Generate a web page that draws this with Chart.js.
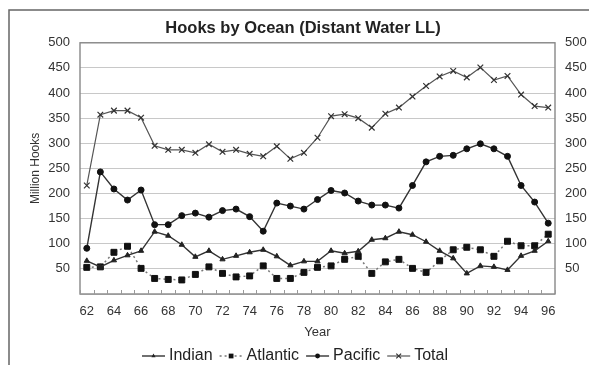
<!DOCTYPE html>
<html><head><meta charset="utf-8">
<script src="https://cdn.jsdelivr.net/npm/chart.js@4/dist/chart.umd.min.js"></script>
<style>html,body{margin:0;padding:0;background:#fff}</style>
</head><body>
<canvas id="c" width="589" height="365" style="display:block;width:589px;height:365px"></canvas>
<script>
const years = ['62','63','64','65','66','67','68','69','70','71','72','73','74','75','76','77','78','79','80','81','82','83','84','85','86','87','88','89','90','91','92','93','94','95','96'];
const indian   = [66,54,67,77,86,124,116,98,74,86,69,76,83,88,75,57,65,65,86,81,85,108,111,124,118,104,86,71,41,56,54,48,76,86,105];
const atlantic = [53,54,83,95,51,31,29,28,39,54,41,34,36,56,31,31,43,53,56,69,75,41,64,69,51,43,66,88,93,88,75,105,96,96,119];
const pacific  = [91,243,209,187,207,138,138,156,161,153,166,169,154,125,181,175,169,188,206,201,185,177,177,171,216,263,274,276,289,299,289,274,216,183,141];
const total    = [216,357,365,365,351,295,287,287,281,298,283,287,279,274,294,269,281,311,354,358,350,331,359,371,393,414,433,444,431,451,426,434,397,374,371];
const yMin = 0, yMax = 500, yStep = 50;
const titleText = 'Hooks by Ocean (Distant Water LL)';
const yTitle = 'Million Hooks';
const xTitle = 'Year';

const FONT = '"Liberation Sans", Arial, sans-serif';

const datasets = [
  {label:'Indian', data: indian, borderColor:'#333', borderWidth:1.4, pointStyle:'triangle', pointRadius:3,
   pointBackgroundColor:'#222', pointBorderColor:'#222', pointBorderWidth:1},
  {label:'Atlantic', data: atlantic, borderColor:'#777', borderWidth:1.5, borderDash:[2,3], pointStyle:'rect', pointRadius:4.2,
   pointBackgroundColor:'#111', pointBorderColor:'#111', pointBorderWidth:1},
  {label:'Pacific', data: pacific, borderColor:'#333', borderWidth:1.4, pointStyle:'circle', pointRadius:3,
   pointBackgroundColor:'#111', pointBorderColor:'#111', pointBorderWidth:1},
  {label:'Total', data: total, borderColor:'#555', borderWidth:1.2, pointStyle:'crossRot', pointRadius:4,
   pointBackgroundColor:'#333', pointBorderColor:'#333', pointBorderWidth:1.2}
];
datasets.forEach(d => { d.tension = 0; d.fill = false; d.yAxisID = 'y'; });

const framePlugin = {
  id: 'frames',
  beforeDraw(chart) {
    const ctx = chart.ctx;
    ctx.save();
    ctx.strokeStyle = '#666';
    ctx.lineWidth = 1.5;
    ctx.strokeRect(9, 10, 800, 800);
    ctx.restore();
  },
  afterDatasetsDraw(chart) {
    const ctx = chart.ctx, a = chart.chartArea, xs = chart.scales.x;
    ctx.save();
    ctx.strokeStyle = '#888';
    ctx.lineWidth = 1.4;
    ctx.strokeRect(a.left, a.top, a.right - a.left, a.bottom - a.top);
    // inward tick marks between categories
    const step = xs.getPixelForValue(1) - xs.getPixelForValue(0);
    ctx.lineWidth = 1;
    ctx.strokeStyle = '#999';
    ctx.beginPath();
    for (let i = 0; i <= years.length; i++) {
      const px = Math.round(xs.getPixelForValue(i) - step / 2) + 0.5;
      ctx.moveTo(px, a.bottom);
      ctx.lineTo(px, a.bottom - 4);
    }
    ctx.stroke();
    ctx.restore();
  },
  afterDraw(chart) {
    // legend: line sample + marker + label
    const ctx = chart.ctx;
    ctx.save();
    ctx.font = '16px ' + FONT;
    ctx.textBaseline = 'middle';
    const lineLen = 23, gapText = 4, gapItem = 7;
    const items = chart.data.datasets.map(d => ({d, w: ctx.measureText(d.label).width}));
    const totalW = items.reduce((s, it) => s + lineLen + gapText + it.w, 0) + gapItem * (items.length - 1);
    let x = 295 - totalW / 2;
    const y = 356;
    items.forEach(it => {
      const d = it.d;
      ctx.strokeStyle = d.borderColor;
      ctx.lineWidth = d.borderWidth;
      ctx.setLineDash(d.borderDash || []);
      ctx.beginPath(); ctx.moveTo(x, y); ctx.lineTo(x + lineLen, y); ctx.stroke();
      ctx.setLineDash([]);
      const cx = x + lineLen / 2;
      ctx.fillStyle = d.pointBackgroundColor;
      ctx.strokeStyle = d.pointBorderColor;
      ctx.lineWidth = d.pointBorderWidth;
      const r = d.pointRadius * 0.8;
      ctx.beginPath();
      if (d.pointStyle === 'circle') { ctx.arc(cx, y, r, 0, Math.PI * 2); ctx.fill(); }
      else if (d.pointStyle === 'rect') { const s = r * Math.SQRT1_2; ctx.fillRect(cx - s, y - s, 2 * s, 2 * s); }
      else if (d.pointStyle === 'triangle') { ctx.moveTo(cx, y - r); ctx.lineTo(cx + r * 0.87, y + r / 2); ctx.lineTo(cx - r * 0.87, y + r / 2); ctx.closePath(); ctx.fill(); }
      else if (d.pointStyle === 'crossRot') { const s = r * 0.75; ctx.moveTo(cx - s, y - s); ctx.lineTo(cx + s, y + s); ctx.moveTo(cx + s, y - s); ctx.lineTo(cx - s, y + s); ctx.stroke(); }
      x += lineLen + gapText;
      ctx.fillStyle = '#222';
      ctx.textAlign = 'left';
      ctx.fillText(d.label, x, y);
      x += it.w + gapItem;
    });
    ctx.restore();
  }
};

new Chart(document.getElementById('c'), {
  type: 'line',
  data: { labels: years, datasets },
  plugins: [framePlugin],
  options: {
    responsive: false,
    animation: false,
    devicePixelRatio: 1,
    layout: { padding: { left: 17, right: 0, top: 0, bottom: 25 } },
    plugins: {
      legend: { display: false },
      tooltip: { enabled: false },
      title: { display: true, text: titleText, color: '#222',
               font: { family: FONT, size: 16.5, weight: 'bold' },
               padding: { top: 19, bottom: 4 } }
    },
    scales: {
      x: {
        type: 'category', offset: true,
        grid: { display: false, drawTicks: false },
        border: { display: false },
        ticks: { autoSkip: false, maxRotation: 0, padding: 10, color: '#333',
                 font: { family: FONT, size: 13 },
                 callback: function(v, i) { return i % 2 === 0 ? this.getLabelForValue(v) : ''; } },
        title: { display: true, text: xTitle, color: '#333', font: { family: FONT, size: 13 }, padding: { top: 0, bottom: 0 } },
        afterFit: s => { s.height = 46; }
      },
      y: {
        position: 'left', min: yMin, max: yMax,
        grid: { color: '#c8c8c8', lineWidth: 1, drawTicks: false },
        border: { display: false },
        ticks: { stepSize: yStep, padding: 10, color: '#333', font: { family: FONT, size: 13 },
                 callback: v => v === 0 ? '' : v },
        title: { display: true, text: yTitle, color: '#333', font: { family: FONT, size: 12 }, padding: { top: 11, bottom: 0 } },
        afterFit: s => { s.width = 63; }
      },
      y2: {
        position: 'right', min: yMin, max: yMax, display: true,
        grid: { display: false, drawTicks: false },
        border: { display: false },
        ticks: { stepSize: yStep, padding: 10, color: '#333', font: { family: FONT, size: 13 },
                 callback: v => v === 0 ? '' : v },
        afterFit: s => { s.width = 34; }
      }
    }
  }
});
</script>
</body></html>
